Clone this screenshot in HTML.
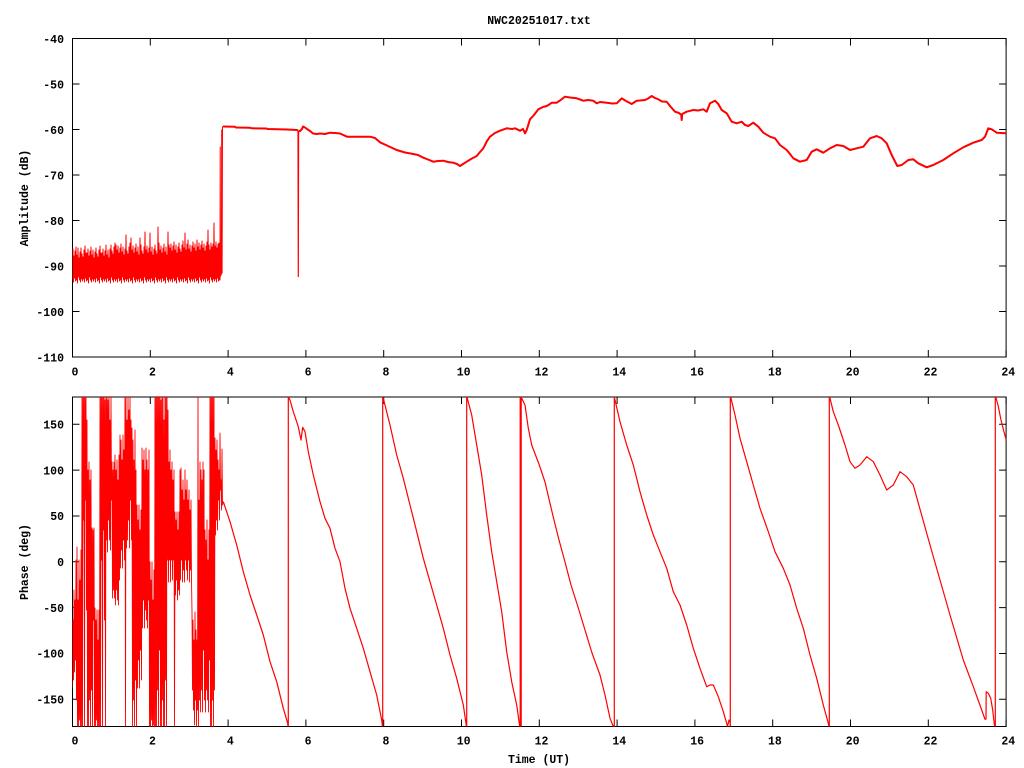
<!DOCTYPE html>
<html>
<head>
<meta charset="utf-8">
<style>
html,body{margin:0;padding:0;background:#fff;}
svg{display:block;}
text{font-family:"Liberation Mono","DejaVu Sans Mono",monospace;font-weight:bold;font-size:11.5px;fill:#000;}
</style>
</head>
<body>
<svg width="1024" height="768" viewBox="0 0 1024 768" xmlns="http://www.w3.org/2000/svg">
<defs>
<clipPath id="c1"><rect x="72.5" y="38.5" width="933.6" height="318.5"/></clipPath>
<clipPath id="c2"><rect x="72.5" y="397" width="933.6" height="329.5"/></clipPath>
</defs>
<rect width="1024" height="768" fill="#fff"/>

<!-- Title -->
<text x="539" y="24" text-anchor="middle">NWC20251017.txt</text>

<!-- ===== Top plot frame ===== -->
<g stroke="#000" stroke-width="1" fill="none">
<rect x="72.5" y="38.5" width="933.6" height="318.5"/>
<path d="M72.5,38.5h7M72.5,84h7M72.5,129.5h7M72.5,175h7M72.5,220.5h7M72.5,266h7M72.5,311.5h7M72.5,357h7
M1006.1,38.5h-7M1006.1,84h-7M1006.1,129.5h-7M1006.1,175h-7M1006.1,220.5h-7M1006.1,266h-7M1006.1,311.5h-7M1006.1,357h-7"/>
<path d="M72.5,357v-7M150.3,357v-7M228.1,357v-7M305.9,357v-7M383.7,357v-7M461.5,357v-7M539.3,357v-7M617.1,357v-7M694.9,357v-7M772.7,357v-7M850.5,357v-7M928.3,357v-7M1006.1,357v-7
M72.5,38.5v7M150.3,38.5v7M228.1,38.5v7M305.9,38.5v7M383.7,38.5v7M461.5,38.5v7M539.3,38.5v7M617.1,38.5v7M694.9,38.5v7M772.7,38.5v7M850.5,38.5v7M928.3,38.5v7M1006.1,38.5v7"/>
</g>
<g text-anchor="end">
<text x="64" y="43">-40</text>
<text x="64" y="88.5">-50</text>
<text x="64" y="134">-60</text>
<text x="64" y="179.5">-70</text>
<text x="64" y="225">-80</text>
<text x="64" y="270.5">-90</text>
<text x="64" y="316">-100</text>
<text x="64" y="361.5">-110</text>
</g>
<g text-anchor="middle">
<text x="75" y="375.5">0</text>
<text x="152.5" y="375.5">2</text>
<text x="230.3" y="375.5">4</text>
<text x="308.1" y="375.5">6</text>
<text x="385.9" y="375.5">8</text>
<text x="463.7" y="375.5">10</text>
<text x="541.5" y="375.5">12</text>
<text x="619.3" y="375.5">14</text>
<text x="697.1" y="375.5">16</text>
<text x="774.9" y="375.5">18</text>
<text x="852.7" y="375.5">20</text>
<text x="930.5" y="375.5">22</text>
<text x="1008.3" y="375.5">24</text>
</g>
<text transform="translate(28,198) rotate(-90)" text-anchor="middle">Amplitude (dB)</text>

<!-- Amplitude data -->
<g clip-path="url(#c1)" fill="none" stroke="#ff0000" stroke-linejoin="round">
<polyline stroke-width="1" points="72,253 72.5,279 73,249 73.5,282 74,256 74.5,278 75,251 75.5,281 76,247 76.5,280 77,255 77.5,283 78,248 78.5,277 79,258 79.5,280 80,252 80.5,282 81,248 81.5,279 82,254 82.5,281 83,257 83.5,279 84,250 84.5,282 85,246 85.5,278 86,253 86.5,281 87,253 87.5,280 88,249 88.5,283 89,256 89.5,277 90,251 90.5,280 91,247 91.5,282 92,255 92.5,279 93,250 93.5,281 94,258 94.5,279 95,252 95.5,282 96,248 96.5,278 97,254 97.5,281 98,257 98.5,280 99,250 99.5,283 100,246 100.5,277 101,253 101.5,280 102,253 102.5,282 103,249 103.5,279 104,256 104.5,281 105,251 105.5,279 106,245 106.5,282 107,255 107.5,278 108,250 108.5,281 109,258 109.5,280 110,249 110.5,283 111,245 111.5,277 112,251 112.5,280 113,254 113.5,282 114,247 114.5,279 115,243 115.5,281 116,245 116.5,279 117,250 117.5,282 118,246 118.5,278 119,253 119.5,281 120,248 120.5,280 121,244 121.5,283 122,252 122.5,277 123,247 123.5,280 124,255 124.5,282 125,249 125.5,279 126,235 126.5,281 127,251 127.5,279 128,254 128.5,282 129,247 129.5,278 130,243 130.5,281 131,238 131.5,280 132,250 132.5,283 133,246 133.5,277 134,253 134.5,280 135,248 135.5,282 136,244 136.5,279 137,252 137.5,281 138,247 138.5,279 139,255 139.5,282 140,238 140.5,278 141,245 141.5,281 142,251 142.5,280 143,254 143.5,283 144,247 144.5,277 145,232 145.5,280 146,250 146.5,282 147,246 147.5,279 148,253 148.5,281 149,248 149.5,279 150,233 150.5,282 151,252 151.5,278 152,247 152.5,281 153,255 153.5,280 154,249 154.5,283 155,245 155.5,277 156,251 156.5,280 157,254 157.5,282 158,227 158.5,279 159,243 159.5,281 160,250 160.5,279 161,246 161.5,282 162,253 162.5,278 163,248 163.5,281 164,244 164.5,280 165,252 165.5,283 166,247 166.5,277 167,255 167.5,280 168,232 168.5,282 169,245 169.5,279 170,248 170.5,281 171,244 171.5,279 172,251 172.5,282 173,246 173.5,278 174,242 174.5,281 175,250 175.5,280 176,245 176.5,283 177,253 177.5,277 178,247 178.5,280 179,243 179.5,282 180,249 180.5,279 181,252 181.5,281 182,245 182.5,279 183,241 183.5,282 184,248 184.5,278 185,233 185.5,281 186,250 186.5,280 187,244 187.5,283 188,240 188.5,277 189,249 189.5,280 190,245 190.5,282 191,252 191.5,279 192,246 192.5,281 193,242 193.5,279 194,248 194.5,282 195,244 195.5,278 196,251 196.5,281 197,240 197.5,280 198,247 198.5,283 199,243 199.5,277 200,250 200.5,280 201,245 201.5,282 202,241 202.5,279 203,248 203.5,281 204,244 204.5,279 205,251 205.5,282 206,246 206.5,278 207,242 207.5,281 208,230 208.5,280 209,245 209.5,283 210,250 210.5,277 211,243 211.5,280 212,247 212.5,282 213,244 213.5,279 214,223 214.5,281 215,246 215.5,279 216,242 216.5,282 217,248 217.5,278 218,244 218.5,281 219,243 219.5,280 219.8,243 220,280 220.2,147 220.5,276 221.4,274 221.7,130 222.1,273 222.5,127 223,126.5"/>
<polyline stroke-width="2" points="223,126.5 235,126.8 236,127.5 250,127.8 252,128.3 266,128.5 268,129 287,129.5 297,130 298,130.5"/>
<polyline stroke-width="1.2" points="298,130.5 298.3,276.5 298.6,131"/>
<polyline stroke-width="2" points="298.6,131 300,131 302,129 303,126.5 305,127.5 307,129 310,131 313,133.5 317,134 320,133.5 325,134 330,132.7 335,133 340,133.5 347,136.7 370,136.7 375,138 380,142.3 388,146 396.7,150 405,152.5 413.3,154 418,155 423.3,157.7 428,159.5 433.3,161.7 438,161 443.3,160.7 448,162 453.3,162.7 457,164 460,166 463,164 466.7,161.7 471,159 476.7,156 480,152 483.3,148.3 487,141 490,136.7 495,133 500,130.7 506.7,128.3 512,129 515,128.3 520,130.7 523,129 525,133.3 526.7,130 530,119.3 534,115 538.3,109.3 543,107 546.7,106 550,104 551.7,102.7 556.7,102.7 560,100.5 565,96.7 570,97.5 576.7,98.3 580,99.5 583.3,100.7 588,100 593.3,100.7 596.7,103.3 600,102 606.7,102.7 612,103.5 616.7,103.3 621.7,98.3 626,101 631.7,104 636.7,100.7 640,100.5 645,100 648,98.5 651.7,96 655,98 658.3,99.3 662,101.5 666.7,101.7 670,106 675,111.7 679,113 681.3,115 681.7,120 682.2,114 686.7,111.7 693.3,110 698,110.5 703.3,109.3 706.7,111.7 710,103.3 715,100.7 718.3,104 721.7,110 726.7,113.3 731.7,121.7 736.7,123.3 741.7,121.7 745,125 748.3,126 753.3,122.7 758.3,126.7 763.3,132.7 770,136.7 775,138.3 780,145 786.7,150 790,154 793.3,158.3 800,161.7 806.7,160 811.7,151.7 816.7,149.3 823.3,152.7 830,148.3 836.7,145 843.3,146 850,150 856.7,148.3 863.3,146.7 870,138.3 876.7,136 881.7,138.3 886.7,143.3 891.7,155 897.3,166 901.7,165 908.3,160 913.3,159.3 918.3,163.3 926.7,167.3 933.3,165 943.3,160 953.3,153.3 963.3,147.3 973.3,142.7 981.7,140 985,136.7 988.3,128.3 991.7,129.3 996.7,132.7 1006,133.3"/>
</g>

<!-- ===== Bottom plot frame ===== -->
<g stroke="#000" stroke-width="1" fill="none">
<rect x="72.5" y="397" width="933.6" height="329.5"/>
<path d="M72.5,424.3h7M72.5,470.1h7M72.5,516h7M72.5,561.8h7M72.5,607.6h7M72.5,653.5h7M72.5,699.3h7
M1006.1,424.3h-7M1006.1,470.1h-7M1006.1,516h-7M1006.1,561.8h-7M1006.1,607.6h-7M1006.1,653.5h-7M1006.1,699.3h-7"/>
<path d="M72.5,726.5v-7M150.3,726.5v-7M228.1,726.5v-7M305.9,726.5v-7M383.7,726.5v-7M461.5,726.5v-7M539.3,726.5v-7M617.1,726.5v-7M694.9,726.5v-7M772.7,726.5v-7M850.5,726.5v-7M928.3,726.5v-7M1006.1,726.5v-7
M72.5,397v7M150.3,397v7M228.1,397v7M305.9,397v7M383.7,397v7M461.5,397v7M539.3,397v7M617.1,397v7M694.9,397v7M772.7,397v7M850.5,397v7M928.3,397v7M1006.1,397v7"/>
</g>
<g text-anchor="end">
<text x="64" y="428.5">150</text>
<text x="64" y="474.3">100</text>
<text x="64" y="520.2">50</text>
<text x="64" y="566">0</text>
<text x="64" y="611.8">-50</text>
<text x="64" y="657.7">-100</text>
<text x="64" y="703.5">-150</text>
</g>
<g text-anchor="middle">
<text x="75" y="744.5">0</text>
<text x="152.5" y="744.5">2</text>
<text x="230.3" y="744.5">4</text>
<text x="308.1" y="744.5">6</text>
<text x="385.9" y="744.5">8</text>
<text x="463.7" y="744.5">10</text>
<text x="541.5" y="744.5">12</text>
<text x="619.3" y="744.5">14</text>
<text x="697.1" y="744.5">16</text>
<text x="774.9" y="744.5">18</text>
<text x="852.7" y="744.5">20</text>
<text x="930.5" y="744.5">22</text>
<text x="1008.3" y="744.5">24</text>
</g>
<text transform="translate(28,562) rotate(-90)" text-anchor="middle">Phase (deg)</text>
<text x="539" y="763" text-anchor="middle">Time (UT)</text>

<!-- Phase data -->
<g clip-path="url(#c2)" fill="none" stroke="#ff0000" stroke-linejoin="round">
<polyline stroke-width="0.9" points="72,612 72.5,688 73,620 73.5,680 74,590 74.5,672 75,600 75.5,660 76,560 76.5,700 77,547 77.5,728 78,600 78.5,727 79,560 79.5,720 80,580 80.5,727 81,550 81.5,727 82,397 82.5,727 83,397 83.5,520 84,397 84.5,727 85,397 85.5,500 86,397 86.5,610 87,420 87.5,727 88,470 88.5,727 89,462 89.5,700 90,480 90.5,727 91,470 91.5,690 92,528 92.5,727 93,530 93.5,620 94,528 94.5,727 95,608 95.5,727 96,620 96.5,720 97,610 97.5,727 98,640 98.5,727 99,610 99.5,727 100,397 100.5,727 101,397 101.5,560 102,397 102.5,727 103,397 103.5,530 104,397 104.5,620 105,400 105.5,727 106,397 106.5,540 107,397 107.5,552 108,400 108.5,520 109,397 109.5,540 110,420 110.5,550 111,397 111.5,500 112,462 112.5,598 113,470 113.5,590 114,462 114.5,598 115,455 115.5,605 116,470 116.5,590 117,460 117.5,600 118,480 118.5,605 119,455 119.5,580 120,435 120.5,568 121,440 121.5,550 122,460 122.5,568 123,435 123.5,540 124,450 124.5,560 125,397 125.5,727 126,397 126.5,548 127,420 127.5,540 128,397 128.5,520 129,410 129.5,548 130,397 130.5,500 131,420 131.5,540 132,428 132.5,727 133,440 133.5,700 134,460 134.5,727 135,430 135.5,680 136,470 136.5,727 137,505 137.5,688 138,520 138.5,660 139,505 139.5,688 140,530 140.5,650 141,510 141.5,680 142,448 142.5,628 143,460 143.5,600 144,450 144.5,628 145,470 145.5,610 146,448 146.5,620 147,460 147.5,628 148,470 148.5,600 149,450 149.5,727 150,562 150.5,727 151,580 151.5,720 152,562 152.5,727 153,600 153.5,725 154,570 154.5,727 155,397 155.5,727 156,397 156.5,727 157,397 157.5,690 158,397 158.5,727 159,397 159.5,650 160,397 160.5,727 161,400 161.5,727 162,397 162.5,700 163,397 163.5,727 164,420 164.5,727 165,397 165.5,680 166,397 166.5,727 167,397 167.5,560 168,410 168.5,582 169,462 169.5,560 170,450 170.5,582 171,470 171.5,560 172,462 172.5,580 173,480 173.5,560 174,470 174.5,727 175,512 175.5,595 176,520 176.5,580 177,512 177.5,600 178,530 178.5,590 179,512 179.5,595 180,470 180.5,580 181,468 181.5,560 182,490 182.5,582 183,480 183.5,570 184,500 184.5,582 185,470 185.5,560 186,490 186.5,570 187,480 187.5,580 188,500 188.5,560 189,490 189.5,582 190,510 190.5,570 191,500 191.5,580 192,612 192.5,690 193,620 193.5,710 194,640 194.5,725 195,612 195.5,700 196,630 196.5,727 197,640 197.5,710 198,397 198.5,727 199,500 199.5,700 200,462 200.5,712 201,470 201.5,690 202,480 202.5,712 203,462 203.5,650 204,470 204.5,700 205,530 205.5,712 206,540 206.5,690 207,520 207.5,700 208,560 208.5,712 209,530 209.5,660 210,397 210.5,727 211,397 211.5,727 212,397 212.5,700 213,397 213.5,727 214,397 214.5,690 215,438 215.5,535 216,450 216.5,520 217,440 217.5,530 218,460 218.5,500 219,470 219.5,520 220,433 220.5,490 221,480 221.5,510 222,449 222.5,505 223.3,501.7"/>
<polyline stroke-width="1.2" points="223.3,501.7 230,521.7 236.7,545 243.3,571.7 250,595 256.7,615 263.3,635 270,661.7 276.7,681.7 283.3,708.3 287.7,723.3 288,727 288.3,727 288.3,397 290,400 293.3,411.7 298.3,426.7 301,440 302.7,427.3 305,431.7 308.3,451.7 313.3,475 320,501.7 325,518.3 330,528.3 335,548.3 340,561.7 345,588.3 350,608.3 356.7,628.3 363.3,648.3 370,671.7 376.7,695 381.7,720 382.5,727 382.7,727 382.7,397 383.3,398.3 390,425 396.7,455 403.3,478.3 410,505 416.7,531.7 423.3,558.3 430,581.7 436.7,605 443.3,628.3 450,655 456.7,678.3 463.3,705 466,723.3 466.5,727 466.7,727 466.7,397 467.3,398.3 471.7,415 476.7,445 481.7,475 486.7,515 491.7,551.7 496.7,581.7 501.7,611.7 506.7,651.7 511.7,681.7 516.7,705 519.3,723.3 519.8,727 520.2,727 520.2,397 520.6,397 520.6,727 521.2,727 521.2,397 521.7,398.3 525,405 528.3,428.3 531.7,445 539.3,465 545,482 553,516 559,540 565,562 571,585 578,607 585,630 592,653 600,675 605,695 610,718.3 612.7,725 614,727 614.3,727 614.3,397 615,400 620,421.7 626.7,445 633.3,465 640,491.7 646.7,515 653.3,535 660,551.7 666.7,568.3 673.3,591.7 680,605 686.7,625 693.3,648.3 700,668.3 706.7,686.7 710,685 713.3,685 718.3,696.7 723.3,711.7 726.7,723.3 727.5,726.5 729,720 730,722 730.3,727 730.3,397 731,398.3 735,415 740,438.3 746.7,461.7 753.3,485 760,508.3 768.3,531.7 775,551.7 783.3,568.3 790,585 796.7,608.3 803.3,628.3 810,655 816.7,678.3 823.3,705 828.3,723.3 829,727 829.3,727 829.3,397 830,398.3 833.3,411.7 838.3,425 845,445 850,461.7 855,468.3 860,465 866.7,456.7 873.3,461.7 880,475 886.7,490 893.3,485 900,471.7 906.7,476.7 913.3,485 919.3,506.7 930,545 940,580 950,615 963.3,660 973.3,686.7 981.7,710 985,719.3 986,719 986.2,691.7 988.3,693.3 990.7,698.3 992.7,710 994,721.7 994.7,727 995.3,727 995.3,397 996,398 998,405 1001,420 1004,432 1006.5,441"/>
</g>
</svg>
</body>
</html>
